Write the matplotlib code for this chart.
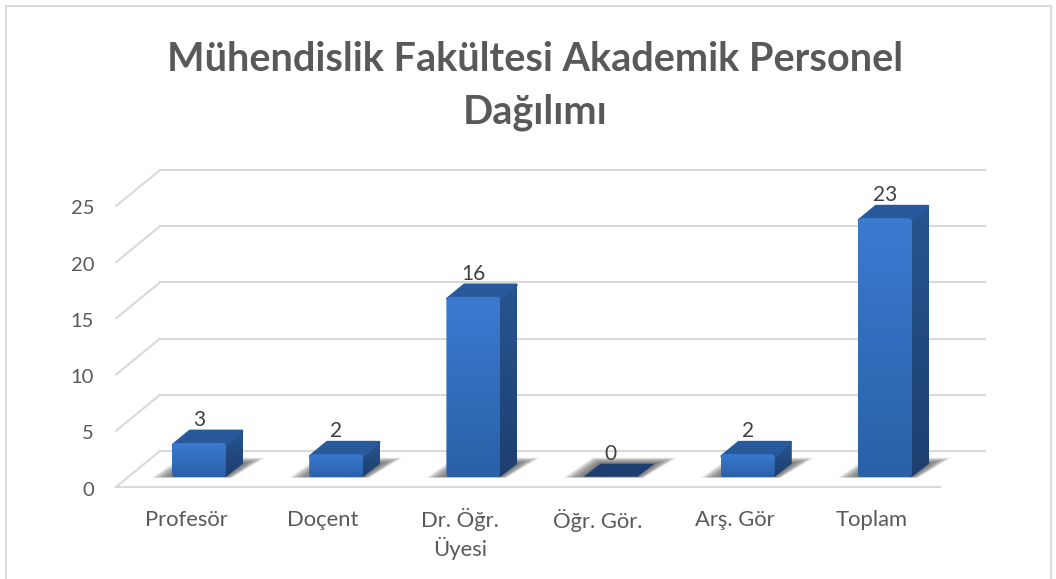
#!/usr/bin/env python

import matplotlib
matplotlib.use('Agg')

import numpy as np
from matplotlib import pyplot as plt
from matplotlib.patches import FancyBboxPatch, Polygon, Rectangle
from matplotlib.colors import LinearSegmentedColormap

categories = ['Profesör', 'Doçent', 'Dr. Öğr.\nÜyesi', 'Öğr. Gör.', 'Arş. Gör', 'Toplam']
values = [3, 2, 16, 0, 2, 23]
yticks = [0, 5, 10, 15, 20, 25]

W, H = 1056, 579
X0, XSTEP = 199.0, 137.2    # px of first bar, px per category
Y0, YSTEP = 476.7, 11.24    # px of bar base, px per unit

def dx(px):
    return px / XSTEP

def dy(px):
    return px / YSTEP

def xp(px):
    return (px - X0) / XSTEP

def yp(px):
    return (Y0 - px) / YSTEP

plt.rcParams['font.family'] = ['Lato', 'DejaVu Sans']

fig = plt.figure(figsize=(W / 100, H / 100), dpi=100)
ax = fig.add_axes([0, 0, 1, 1])
ax.set_xlim(xp(0), xp(W))
ax.set_ylim(yp(H), yp(0))
ax.axis('off')

# chart frame
ax.plot([xp(5.5), xp(5.5), xp(1051), xp(1051)], [yp(579), yp(6), yp(6), yp(579)],
        color='#d9d9d9', lw=1.3, zorder=1)

grid = '#d9d9d9'
for v in yticks:
    back = v + dy(Y0 - 451)
    front = v + yp(487)
    ax.plot([xp(160), xp(985)], [back, back], color=grid, lw=1.5, zorder=1)
    ax.plot([xp(116), xp(160)], [front, back], color=grid, lw=1.5, zorder=1)
    ax.text(xp(94), front - dy(3), str(v), ha='right', va='center', fontsize=14.5, color='#595959')
ax.plot([xp(116), xp(940)], [yp(487), yp(487)], color=grid, lw=1.5, zorder=1)

front_cm = LinearSegmentedColormap.from_list('front', ['#3a7ad0', '#2a60a8'])
side_cm = LinearSegmentedColormap.from_list('side', ['#27558f', '#1d3f70'])
half = dx(27)
side_x, side_y = dx(17), dy(13)

for i, v in enumerate(values):
    l, r = i - half, i + half

    # soft shadow on the floor, each layer a bit smaller and so darker inside
    for k in range(10):
        grow = (1 - k / 10) ** 0.9
        ax.add_patch(Polygon([(l - dx(20) * grow, dy(-1) * grow),
                              (r + dx(6) * grow, dy(-1) * grow),
                              (r + side_x + dx(22) * grow, side_y + dy(6) * grow),
                              (l + side_x - dx(8) * grow, side_y + dy(6) * grow)],
                             closed=True, fc='#404040', ec='none', alpha=0.1, zorder=2))

    if v == 0:
        ax.add_patch(Polygon([(l, 0), (r, 0), (r + side_x, side_y), (l + side_x, side_y)],
                             closed=True, fc='#1c3e70', ec='none', zorder=3))
    else:
        # side face
        side = Polygon([(r - dx(2), 0), (r, 0), (r + side_x, side_y), (r + side_x, v + side_y - dy(1)),
                        (r, v), (r - dx(2), v)], closed=True, fc='none', ec='none', zorder=3)
        ax.add_patch(side)
        im = ax.imshow(np.linspace(0, 1, 64).reshape(-1, 1), cmap=side_cm, aspect='auto',
                       extent=(r - dx(2), r + side_x, 0, v + side_y), zorder=3)
        im.set_clip_path(side)

        # top face
        ax.add_patch(Polygon([(l + dx(1), v - dy(2)), (l + side_x + dx(1), v + side_y - dy(1)),
                              (r + side_x - dx(1), v + side_y - dy(1)), (r, v - dy(2))],
                             closed=True, fc='#27599b', ec='#27599b', lw=2, joinstyle='round', zorder=3))

        # front face
        face = FancyBboxPatch((l, 0), 2 * half, v, boxstyle='round,pad=0,rounding_size=%f' % dx(4),
                              mutation_aspect=XSTEP / YSTEP, fc='none', ec='none', zorder=4)
        ax.add_patch(face)
        im = ax.imshow(np.linspace(0, 1, 64).reshape(-1, 1), cmap=front_cm, aspect='auto',
                       extent=(l, r, 0, v), zorder=4)
        im.set_clip_path(face)
        ax.add_patch(Rectangle((l + dx(1), 0), 2 * half - dx(2), dy(2), fc='#2a60a8', ec='none', zorder=4))

    ax.text(i, v + side_y + dy(10), str(v), ha='center', va='center', fontsize=15, color='#404040', zorder=5)
    ax.text(i - dx(13), yp(520) if '\n' not in categories[i] else yp(534), categories[i],
            ha='center', va='center', fontsize=15.8, color='#595959', linespacing=1.3)

ax.set_xlim(xp(0), xp(W))
ax.set_ylim(yp(H), yp(0))

ax.text(xp(535), yp(86), 'Mühendislik Fakültesi Akademik Personel\nDağılımı', ha='center', va='center',
        fontsize=28.5, fontweight='bold', color='#595959', linespacing=1.5)

fig.savefig('out.png', dpi=100)
